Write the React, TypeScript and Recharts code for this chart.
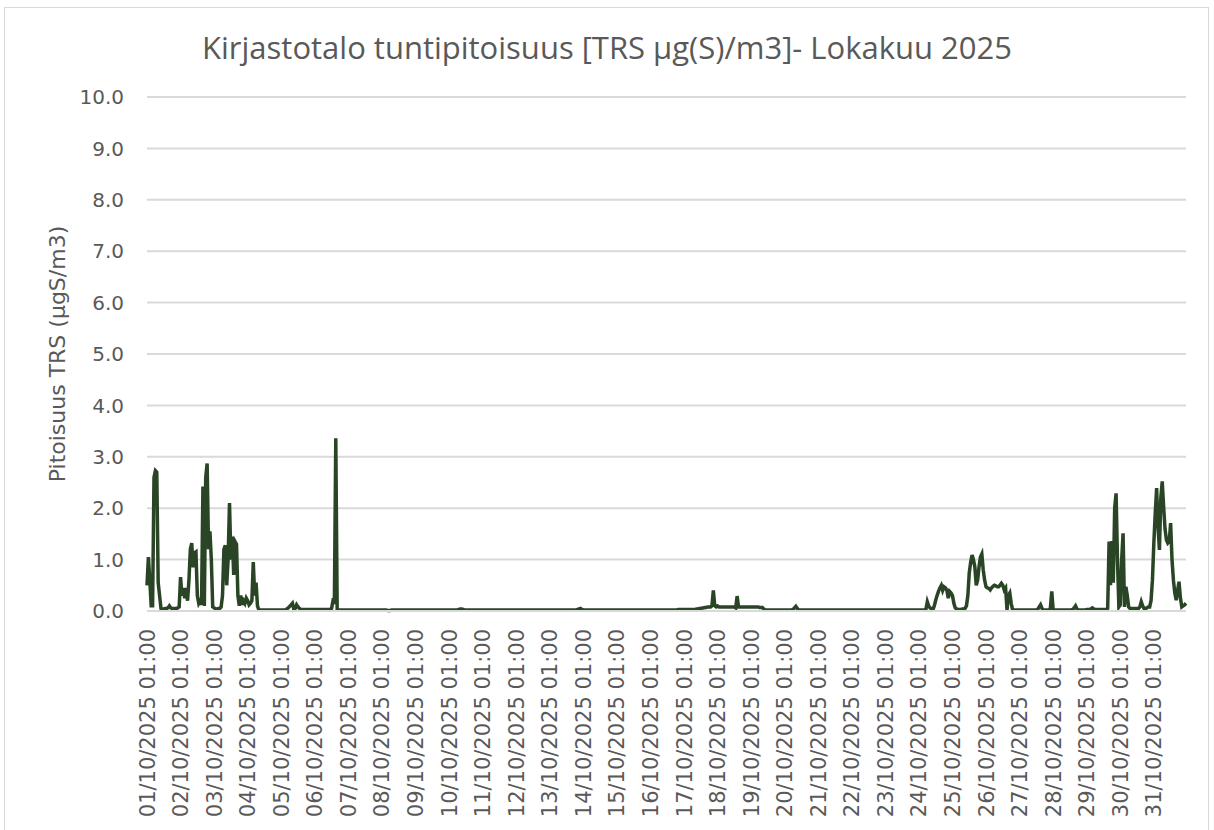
import { CartesianGrid, Line, LineChart, XAxis, YAxis } from "recharts"

// hourly TRS readings, one array per day (01:00 -> 24:00)
const day01 = [0.5, 1.05, 0.6, 0.1, 0.1, 2.6, 2.73, 2.7, 0.55, 0.3, 0.05, 0.04, 0.04, 0.05, 0.05, 0.06, 0.1, 0.06, 0.05, 0.05, 0.05, 0.05, 0.06, 0.08]
const day02 = [0.66, 0.3, 0.45, 0.25, 0.45, 0.2, 0.6, 1.2, 1.32, 0.85, 1.13, 1.15, 0.3, 0.15, 0.2, 0.12, 2.42, 0.1, 2.6, 2.87, 1.2, 1.55, 1.0, 0.08]
const day03 = [0.06, 0.04, 0.04, 0.05, 0.05, 0.08, 0.3, 1.2, 1.28, 0.5, 1.0, 2.1, 1.0, 1.45, 0.7, 1.35, 1.3, 0.3, 0.1, 0.3, 0.12, 0.2, 0.15, 0.25]
const day04 = [0.2, 0.12, 0.15, 0.2, 0.95, 0.3, 0.55, 0.1, 0.02, 0.02, 0.02, 0.02, 0.02, 0.02, 0.02, 0.02, 0.02, 0.02, 0.02, 0.02, 0.02, 0.02, 0.02, 0.02]
const day05 = [0.02, 0.02, 0.02, 0.02, 0.04, 0.06, 0.09, 0.12, 0.15, 0.03, 0.05, 0.12, 0.08, 0.05, 0.03, 0.03, 0.03, 0.03, 0.03, 0.03, 0.03, 0.03, 0.03, 0.03]
const day06 = [0.03, 0.03, 0.03, 0.03, 0.03, 0.03, 0.03, 0.03, 0.03, 0.03, 0.03, 0.03, 0.05, 0.2, 0.18, 3.36, 0.03, 0.02, 0.02, 0.02, 0.02, 0.02, 0.02, 0.02]
const day07 = [0.02, 0.02, 0.02, 0.02, 0.02, 0.02, 0.02, 0.02, 0.02, 0.02, 0.02, 0.02, 0.02, 0.02, 0.02, 0.02, 0.02, 0.02, 0.02, 0.02, 0.02, 0.02, 0.02, 0.02]
const day08 = [0.02, 0.02, 0.02, 0.02, 0.01, 0.01, 0.01, 0.02, 0.02, 0.02, 0.02, 0.02, 0.02, 0.02, 0.02, 0.02, 0.02, 0.02, 0.02, 0.02, 0.02, 0.02, 0.02, 0.02]
const day09 = [0.02, 0.02, 0.02, 0.02, 0.02, 0.02, 0.02, 0.02, 0.02, 0.02, 0.02, 0.02, 0.02, 0.02, 0.02, 0.02, 0.02, 0.02, 0.02, 0.02, 0.02, 0.02, 0.02, 0.02]
const day10 = [0.02, 0.02, 0.02, 0.02, 0.02, 0.02, 0.02, 0.03, 0.04, 0.04, 0.03, 0.02, 0.02, 0.02, 0.02, 0.02, 0.02, 0.02, 0.02, 0.02, 0.02, 0.02, 0.02, 0.02]
const day11 = [0.02, 0.02, 0.02, 0.02, 0.02, 0.02, 0.02, 0.02, 0.02, 0.02, 0.02, 0.02, 0.02, 0.02, 0.02, 0.02, 0.02, 0.02, 0.02, 0.02, 0.02, 0.02, 0.02, 0.02]
const day12 = [0.02, 0.02, 0.02, 0.02, 0.02, 0.02, 0.02, 0.02, 0.02, 0.02, 0.02, 0.02, 0.02, 0.02, 0.02, 0.02, 0.02, 0.02, 0.02, 0.02, 0.02, 0.02, 0.02, 0.02]
const day13 = [0.02, 0.02, 0.02, 0.02, 0.02, 0.02, 0.02, 0.02, 0.02, 0.02, 0.02, 0.02, 0.02, 0.02, 0.02, 0.02, 0.02, 0.02, 0.02, 0.02, 0.03, 0.04, 0.05, 0.03]
const day14 = [0.02, 0.02, 0.02, 0.02, 0.02, 0.02, 0.02, 0.02, 0.02, 0.02, 0.02, 0.02, 0.02, 0.02, 0.02, 0.02, 0.02, 0.02, 0.02, 0.02, 0.02, 0.02, 0.02, 0.02]
const day15 = [0.02, 0.02, 0.02, 0.02, 0.02, 0.02, 0.02, 0.02, 0.02, 0.02, 0.02, 0.02, 0.02, 0.02, 0.02, 0.02, 0.02, 0.02, 0.02, 0.02, 0.02, 0.02, 0.02, 0.02]
const day16 = [0.02, 0.02, 0.02, 0.02, 0.02, 0.02, 0.02, 0.02, 0.02, 0.02, 0.02, 0.02, 0.02, 0.02, 0.02, 0.02, 0.02, 0.02, 0.02, 0.02, 0.03, 0.03, 0.03, 0.03]
const day17 = [0.03, 0.03, 0.03, 0.03, 0.03, 0.03, 0.03, 0.03, 0.03, 0.04, 0.04, 0.05, 0.05, 0.06, 0.06, 0.07, 0.07, 0.08, 0.08, 0.08, 0.1, 0.4, 0.1, 0.08]
const day18 = [0.1, 0.08, 0.08, 0.08, 0.08, 0.08, 0.08, 0.08, 0.08, 0.08, 0.08, 0.08, 0.08, 0.06, 0.29, 0.08, 0.08, 0.08, 0.08, 0.08, 0.08, 0.08, 0.08, 0.08]
const day19 = [0.08, 0.08, 0.08, 0.08, 0.08, 0.08, 0.07, 0.07, 0.07, 0.04, 0.02, 0.02, 0.02, 0.02, 0.02, 0.02, 0.02, 0.02, 0.02, 0.02, 0.02, 0.02, 0.02, 0.02]
const day20 = [0.02, 0.02, 0.02, 0.02, 0.02, 0.02, 0.03, 0.06, 0.09, 0.05, 0.02, 0.02, 0.02, 0.02, 0.02, 0.02, 0.02, 0.02, 0.02, 0.02, 0.02, 0.02, 0.02, 0.02]
const day21 = [0.02, 0.02, 0.02, 0.02, 0.02, 0.02, 0.02, 0.02, 0.02, 0.02, 0.02, 0.02, 0.02, 0.02, 0.02, 0.02, 0.02, 0.02, 0.02, 0.02, 0.02, 0.02, 0.02, 0.02]
const day22 = [0.02, 0.02, 0.02, 0.02, 0.02, 0.02, 0.02, 0.02, 0.02, 0.02, 0.02, 0.02, 0.02, 0.02, 0.02, 0.02, 0.02, 0.02, 0.02, 0.02, 0.02, 0.02, 0.02, 0.02]
const day23 = [0.02, 0.02, 0.02, 0.02, 0.02, 0.02, 0.02, 0.02, 0.02, 0.02, 0.02, 0.02, 0.02, 0.02, 0.02, 0.02, 0.02, 0.02, 0.02, 0.02, 0.02, 0.02, 0.02, 0.02]
const day24 = [0.02, 0.02, 0.02, 0.02, 0.02, 0.03, 0.18, 0.1, 0.06, 0.04, 0.03, 0.1, 0.21, 0.3, 0.38, 0.45, 0.5, 0.4, 0.47, 0.45, 0.4, 0.25, 0.38, 0.35]
const day25 = [0.3, 0.15, 0.06, 0.04, 0.03, 0.03, 0.03, 0.04, 0.04, 0.05, 0.1, 0.3, 0.74, 0.95, 1.09, 1.0, 0.86, 0.5, 0.6, 0.86, 1.05, 1.11, 0.8, 0.6]
const day26 = [0.47, 0.45, 0.44, 0.41, 0.45, 0.48, 0.5, 0.49, 0.47, 0.47, 0.5, 0.54, 0.5, 0.41, 0.45, 0.02, 0.3, 0.35, 0.15, 0.02, 0.02, 0.02, 0.02, 0.02]
const day27 = [0.02, 0.02, 0.02, 0.02, 0.02, 0.02, 0.02, 0.02, 0.02, 0.02, 0.02, 0.02, 0.02, 0.03, 0.08, 0.12, 0.05, 0.02, 0.02, 0.02, 0.02, 0.02, 0.05, 0.38]
const day28 = [0.02, 0.02, 0.02, 0.02, 0.02, 0.02, 0.02, 0.02, 0.02, 0.02, 0.02, 0.02, 0.02, 0.02, 0.03, 0.06, 0.1, 0.04, 0.02, 0.02, 0.02, 0.02, 0.02, 0.02]
const day29 = [0.03, 0.03, 0.03, 0.04, 0.06, 0.04, 0.03, 0.03, 0.03, 0.03, 0.03, 0.03, 0.03, 0.03, 0.03, 0.05, 1.35, 0.5, 1.36, 0.55, 2.0, 2.29, 1.0, 0.08]
const day30 = [0.12, 1.0, 1.51, 0.08, 0.47, 0.3, 0.08, 0.05, 0.05, 0.05, 0.05, 0.05, 0.05, 0.05, 0.08, 0.18, 0.1, 0.05, 0.05, 0.06, 0.08, 0.08, 0.2, 0.6]
const day31 = [1.32, 1.9, 2.39, 1.64, 1.19, 2.2, 2.52, 2.03, 1.6, 1.38, 1.32, 1.35, 1.71, 1.0, 0.6, 0.35, 0.21, 0.4, 0.57, 0.25, 0.08, 0.1, 0.12, 0.15]

const days = [day01, day02, day03, day04, day05, day06, day07, day08, day09, day10, day11, day12, day13, day14, day15, day16, day17, day18, day19, day20, day21, day22, day23, day24, day25, day26, day27, day28, day29, day30, day31]
const yTicks = [0, 1, 2, 3, 4, 5, 6, 7, 8, 9, 10]

const pad = (n: number) => String(n).padStart(2, "0")

const data = days.flatMap((vals, d) =>
  vals.map((v, h) => {
    const hour = (h + 1) % 24
    const dd = h === 23 ? d + 2 : d + 1
    return { time: `${pad(dd)}/10/2025 ${pad(hour)}:00`, trs: v }
  })
)

const DateTick = (props: any) => {
  const { x, y, payload } = props
  return (
    <g transform={`translate(${x},${y})`}>
      <text transform="rotate(-90)" x={-10} y={0} dy="0.36em" textAnchor="end" fill="#595959" fontSize={21}>
        {payload.value}
      </text>
    </g>
  )
}

export default function App() {
  return (
    <div style={{ position: "absolute", left: 0, top: 0, width: 1214, height: 830, background: "#fff", fontFamily: "'DejaVu Sans', sans-serif" }}>
      <div style={{ position: "absolute", left: 4, top: 7, width: 1205, height: 830, border: "1px solid #d9d9d9", boxSizing: "border-box" }} />
      <div style={{ position: "absolute", left: 0, top: 26, width: 1214, textAlign: "center", fontSize: 31, color: "#595959", fontFamily: "'Open Sans', sans-serif" }}>
        Kirjastotalo tuntipitoisuus [TRS µg(S)/m3]- Lokakuu 2025
      </div>
      <div style={{ position: "absolute", left: 0, top: 0 }}>
        <LineChart width={1214} height={830} data={data} margin={{ top: 97, right: 28, bottom: 0, left: 0 }}>
          <CartesianGrid vertical={false} stroke="#d9d9d9" strokeWidth={2} />
          <XAxis
            dataKey="time"
            interval={23}
            tickLine={false}
            axisLine={{ stroke: "#d9d9d9", strokeWidth: 2 }}
            height={219}
            tick={<DateTick />}
          />
          <YAxis
            width={147}
            domain={[0, 10]}
            ticks={yTicks}
            tickFormatter={(v) => v.toFixed(1)}
            axisLine={false}
            tickLine={false}
            tickMargin={17}
            tick={{ fill: "#595959", fontSize: 20 }}
            label={{ value: "Pitoisuus TRS (µgS/m3)", angle: -90, position: "insideLeft", dx: 52, textAnchor: "middle", fill: "#595959", fontSize: 22 }}
          />
          <Line type="linear" dataKey="trs" stroke="#2a4526" strokeWidth={3.5} dot={false} isAnimationActive={false} />
        </LineChart>
      </div>
    </div>
  )
}
